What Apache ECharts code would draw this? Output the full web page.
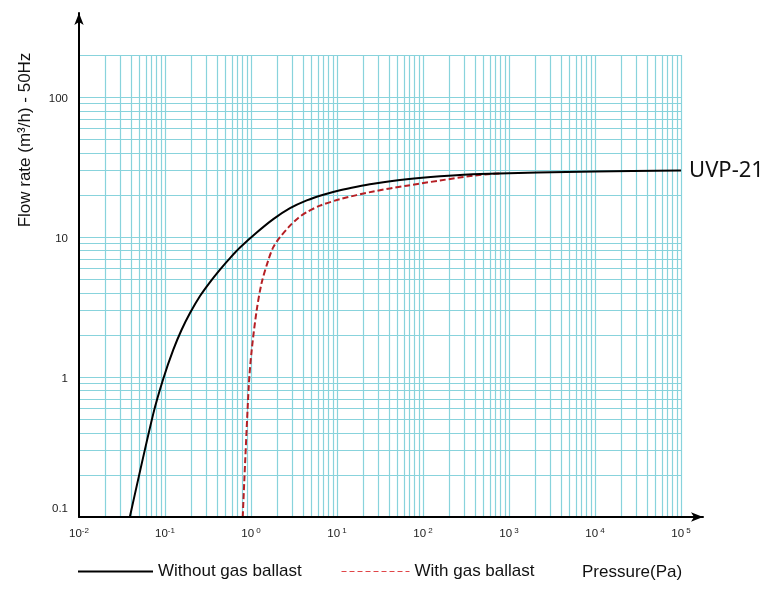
<!DOCTYPE html>
<html><head><meta charset="utf-8">
<script src="https://cdn.jsdelivr.net/npm/echarts@6/dist/echarts.min.js"></script>
<style>html,body{margin:0;padding:0;background:#fff}#c{width:773px;height:605px}</style>
</head><body><div id="c"></div>
<script>
// Pressure (Pa) vs flow rate (m3/h)
const pressureNoBallast = [0.039, 0.0731, 0.0955, 0.1249, 0.1555, 0.1953, 0.2553, 0.3338, 0.436, 0.5699, 0.7448, 1.165, 1.816, 2.842, 4.443, 6.93, 10.84, 16.95, 26.43, 64.65, 157.6, 460, 10000, 100000];
const flowNoBallast     = [0.1,   0.548,  0.974,  1.569,  2.170,  2.870,  3.796,  4.778,  5.869, 7.090,  8.427,  10.79, 13.45, 16.11, 18.32, 20.12, 21.67, 22.95, 24.07, 25.92, 27.23, 28.33, 29.51, 30.0];
const pressureBallast = [0.801, 0.9428, 1.0188, 1.165, 1.331, 1.589, 1.816, 2.174, 2.842, 3.520, 4.443, 6.343, 10.84, 26.43, 64.65, 157.6, 384.5, 785.8];
const flowBallast     = [0.1,   0.877,  1.559,  3.010, 4.732, 6.850, 8.483, 10.0,  12.08, 13.67, 15.09, 16.79, 18.68, 21.21, 23.33, 25.41, 27.54, 28.56];

const xTickExponents = [-2, -1, 0, 1, 2, 3, 4, 5];
const xTickLabels = ['10⁻²', '10⁻¹', '10⁰', '10¹', '10²', '10³', '10⁴', '10⁵'];
const yTickExponents = [-1, 0, 1, 2];
const yTickLabels = ['0.1', '1', '10', '100'];
const gridMantissas = [1, 2, 3, 4, 5, 6, 7, 8, 9];
const xGridDecades = [-2, -1, 0, 1, 2, 3, 4];
const yGridDecades = [-1, 0, 1];
const xGridEnd = 100000;
const yGridEnd = 200;
const xAxisMin = 0.01, xAxisMax = 180000;
const yAxisMin = 0.1, yAxisMax = 400;

const seriesNames = ['Without gas ballast', 'With gas ballast'];
const curveLabel = 'UVP-21';

const zip = (a, b) => a.map((v, i) => [v, b[i]]);

// grid line values
const xGrid = [];
xGridDecades.forEach(d => gridMantissas.forEach(m => { if (!(d === -2 && m === 1)) xGrid.push(m * Math.pow(10, d)); }));
xGrid.push(xGridEnd);
const yGrid = [];
yGridDecades.forEach(d => gridMantissas.forEach(m => { if (!(d === -1 && m === 1)) yGrid.push(m * Math.pow(10, d)); }));
yGrid.push(100, yGridEnd);

const gridColor = '#88d3dc';
const gridLines = [];
xGrid.forEach(v => gridLines.push([{ coord: [v, yAxisMin] }, { coord: [v, yGridEnd] }]));
yGrid.forEach(v => gridLines.push([{ coord: [xAxisMin, v] }, { coord: [xGridEnd, v] }]));

function expOf(v) { const e = Math.log10(v); const r = Math.round(e); return Math.abs(e - r) < 1e-6 ? r : null; }
// split "10⁻²" into base + superscript for rich text
const supMap = { '⁻': '-', '⁰': '0', '¹': '1', '²': '2', '³': '3', '⁴': '4', '⁵': '5' };
function richTick(lbl) {
  const base = lbl.slice(0, 2);
  const sup = lbl.slice(2).split('').map(c => supMap[c] || c).join('');
  return '{b|' + base + '}{s|' + (sup.charAt(0) === '-' ? '' : ' ') + sup + '}';
}

const chart = echarts.init(document.getElementById('c'), null, { renderer: 'canvas' });
chart.setOption({
  animation: false,
  backgroundColor: '#fff',
  grid: { left: 79, right: 70, top: 13, bottom: 88, containLabel: false },
  xAxis: {
    type: 'log', logBase: 10, min: xAxisMin, max: xAxisMax, splitNumber: 7, z: 10,
    axisLine: { show: true, onZero: false, lineStyle: { color: '#000', width: 2 }, symbol: ['none', 'arrow'], symbolSize: [7, 12] },
    axisTick: { show: false }, splitLine: { show: false },
    axisLabel: {
      margin: 10, color: '#222', fontFamily: 'Liberation Sans',
      formatter: v => { const e = expOf(v); const i = xTickExponents.indexOf(e); return (e !== null && i >= 0) ? richTick(xTickLabels[i]) : ''; },
      rich: {
        b: { fontSize: 11.5, color: '#222', fontFamily: 'Liberation Sans', lineHeight: 14 },
        s: { fontSize: 8, color: '#222', fontFamily: 'Liberation Sans', verticalAlign: 'top', lineHeight: 8 }
      }
    }
  },
  yAxis: {
    type: 'log', logBase: 10, min: yAxisMin, max: yAxisMax, splitNumber: 4, z: 10,
    axisLine: { show: true, onZero: false, lineStyle: { color: '#000', width: 2 }, symbol: ['none', 'arrow'], symbolSize: [7, 12] },
    axisTick: { show: false }, splitLine: { show: false },
    axisLabel: {
      margin: 11, fontSize: 11.5, color: '#222', fontFamily: 'Liberation Sans',
      formatter: v => { const e = expOf(v); const i = yTickExponents.indexOf(e); if (e === null || i < 0) return ''; return i === 0 ? '{low|' + yTickLabels[i] + '}' : '{n|' + yTickLabels[i] + '}'; },
      rich: { low: { fontSize: 11.5, color: '#222', padding: [0, 0, 16, 0] }, n: { fontSize: 11.5, color: '#222', padding: [4, 0, 0, 0] } }
    }
  },
  legend: [
    { data: [seriesNames[0]], left: 77, top: 563, padding: 0, itemWidth: 75, itemHeight: 16, itemGap: 0,
      textStyle: { fontSize: 17, color: '#111', fontFamily: 'Liberation Sans' },
      itemStyle: { opacity: 0 }, lineStyle: { width: 2, color: '#000' } },
    { data: [seriesNames[1]], left: 341, top: 563, padding: 0, itemWidth: 68, itemHeight: 16, itemGap: 0,
      textStyle: { fontSize: 17, color: '#111', fontFamily: 'Liberation Sans' },
      itemStyle: { opacity: 0 }, lineStyle: { width: 1, color: '#e04548', type: [5, 3] } }
  ],
  graphic: [
    { type: 'text', x: 25, y: 140, rotation: Math.PI / 2, silent: true,
      style: { text: 'Flow rate (m³/h) - 50Hz', font: '17px "Liberation Sans"', fill: '#111', align: 'center', verticalAlign: 'middle' } },
    { type: 'text', x: 582, y: 572, silent: true,
      style: { text: 'Pressure(Pa)', font: '17px "Liberation Sans"', fill: '#111', align: 'left', verticalAlign: 'middle' } }
  ],
  series: [
    { name: 'grid', type: 'line', data: [], silent: true, z: 1,
      markLine: { silent: true, symbol: ['none', 'none'], z: 1, animation: false,
        label: { show: false }, emphasis: { disabled: true },
        lineStyle: { color: gridColor, width: 1.2, type: 'solid', opacity: 1 },
        data: gridLines } },
    { name: seriesNames[0], type: 'line', data: zip(pressureNoBallast, flowNoBallast), symbol: 'none', smooth: 0.3, z: 5,
      lineStyle: { color: '#000', width: 2 }, itemStyle: { color: '#000' },
      endLabel: { show: true, formatter: curveLabel, fontSize: 22, fontFamily: 'Noto Sans', color: '#111', distance: 8 } },
    { name: seriesNames[1], type: 'line', data: zip(pressureBallast, flowBallast), symbol: 'none', smooth: 0.3, z: 4,
      lineStyle: { color: '#b51f24', width: 2, type: [6, 3] }, itemStyle: { color: '#b51f24' } }
  ]
});
</script></body></html>
